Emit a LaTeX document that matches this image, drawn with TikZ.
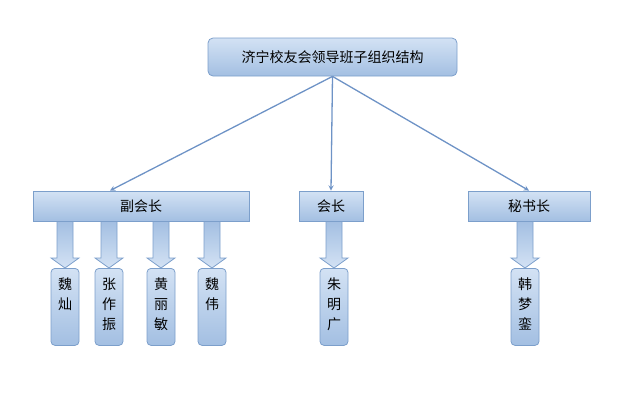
\documentclass[tikz,border=0pt]{standalone}
\usepackage{fontspec}
\setmainfont{Noto Sans CJK SC}
\usepackage{tikz}
\usetikzlibrary{arrows,shapes,calc}
\usetikzlibrary{positioning}
\definecolor{boxtop}{HTML}{D3E2F4}
\definecolor{boxbot}{HTML}{A3BFE2}
\definecolor{boxline}{HTML}{7C9FCB}
\definecolor{linkline}{HTML}{6E93C6}
\newcommand\blockarrow[2]{% from, to
  \draw[blockarr] let \p1=(#2.north |- #1.south), \p2=(#2.north) in
    (\x1-8pt,\y1) -- (\x1+8pt,\y1) -- (\x1+8pt,\y2+10pt) -- (\x1+14pt,\y2+10pt)
    -- (\x2,\y2) -- (\x1-14pt,\y2+10pt) -- (\x1-8pt,\y2+10pt) -- cycle;
}
\newcommand\vname[1]{\parbox[c][72pt][t]{20pt}{\centering\vspace*{7pt}\baselineskip=20pt #1}}
\begin{document}
\begin{tikzpicture}[x=1pt,y=-1pt,
  boxed/.style={draw=boxline,line width=0.8pt,top color=boxtop,bottom color=boxbot,
    inner sep=0pt,font=\fontsize{14}{16}\selectfont},
  namebox/.style={boxed,rounded corners=4pt,minimum width=28pt,minimum height=77pt,anchor=north},
  blockarr/.style={draw=boxline,line width=0.8pt,left color=boxbot,right color=boxtop,shading angle=0},
  link/.style={draw=linkline,line width=1.3pt,->,>=stealth}]
  \useasboundingbox (0,0) rectangle (641,400);
  % top
  \node[boxed,rounded corners=5pt,minimum width=249pt,minimum height=38pt] (head) at (332.5,57) {济宁校友会领导班子组织结构};
  % second row
  \node[boxed,minimum width=216pt,minimum height=30pt] (vp) at (141,206) {副会长};
  \node[boxed,minimum width=64pt,minimum height=30pt] (pres) at (331,206) {会长};
  \node[boxed,minimum width=122pt,minimum height=30pt] (sec) at (529,206) {秘书长};
  \draw[link] (head.south) -- ([xshift=-31pt]vp.north);
  \draw[link] (head.south) -- (pres.north);
  \draw[link] (head.south) -- (sec.north);
  % names
  \node[namebox] (n1) at (65,268) {\vname{魏\\灿}};
  \node[namebox] (n2) at (109,268) {\vname{张\\作\\振}};
  \node[namebox] (n3) at (161,268) {\vname{黄\\丽\\敏}};
  \node[namebox] (n4) at (212,268) {\vname{魏\\伟}};
  \node[namebox] (n5) at (334,268) {\vname{朱\\明\\广}};
  \node[namebox] (n6) at (525,268) {\vname{韩\\梦\\銮}};
  \foreach \nm in {n1,n2,n3,n4}{
    \blockarrow{vp}{\nm}
  }
  \blockarrow{pres}{n5}
  \blockarrow{sec}{n6}
\end{tikzpicture}
\end{document}
